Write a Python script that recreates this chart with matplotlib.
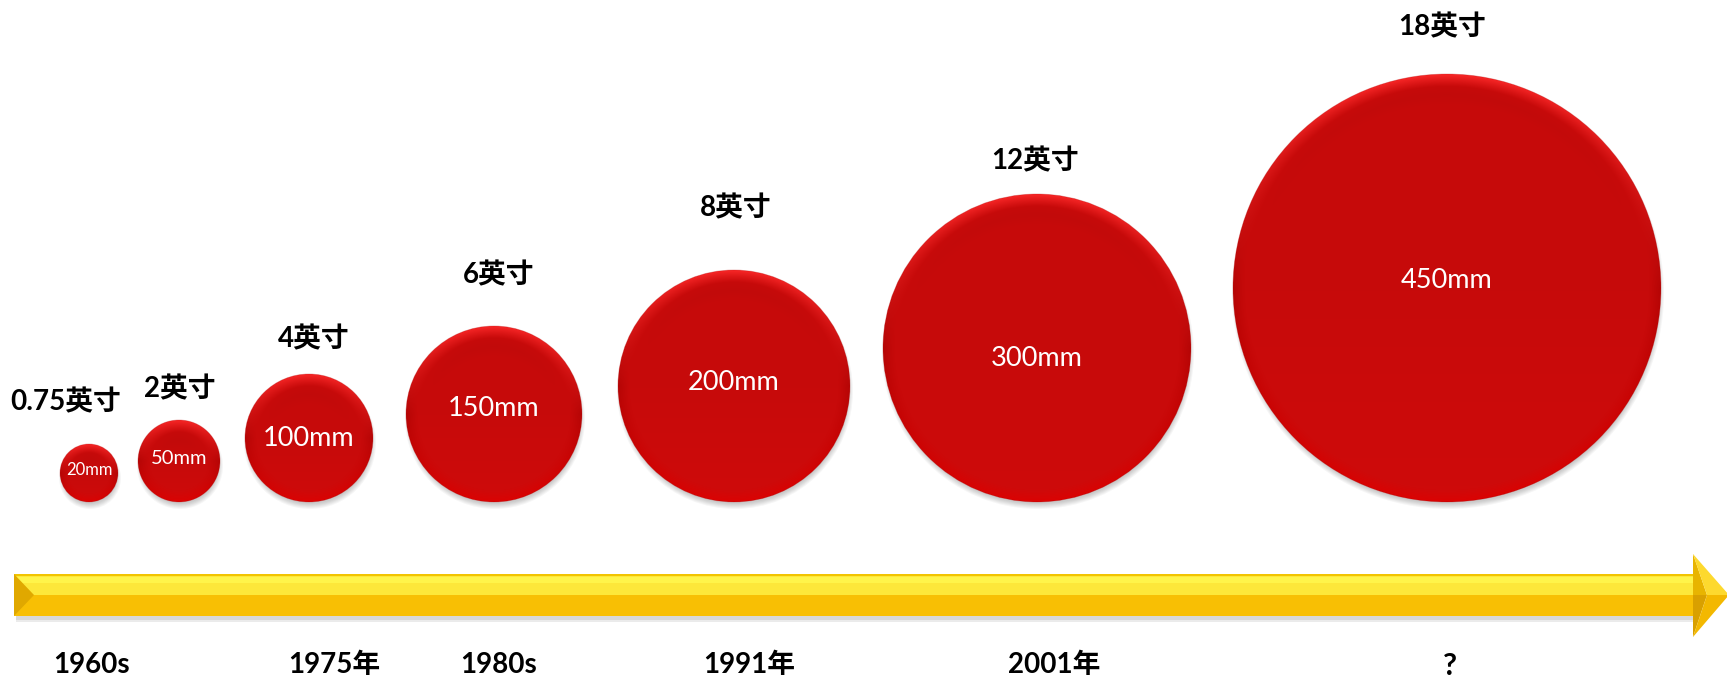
import numpy as np
import matplotlib
matplotlib.use('Agg')
import matplotlib.pyplot as plt
from matplotlib.patches import Circle, Polygon, Rectangle

# wafer sizes
inch_labels = ['0.75英寸', '2英寸', '4英寸', '6英寸', '8英寸', '12英寸', '18英寸']
mm_labels = ['20mm', '50mm', '100mm', '150mm', '200mm', '300mm', '450mm']
years = ['1960s', '1975年', '1980s', '1991年', '2001年', '?']

# layout (pixel units, y down)
W, H = 1727, 677
cx = [89, 179, 309, 494, 734, 1037, 1447]
radius = [29, 41, 64, 88, 116, 154, 214]
base_y = 502
inch_x = [66, 180, 314, 499, 736, 1035, 1442]
inch_y = [402, 389, 339, 275, 208, 161, 27]
mm_dy = [-3, -2, 0, -6, -4, 10, -7]
mm_size = [12, 14.5, 19.5, 19.5, 19.5, 19.5, 19.5]
year_x = [92, 334, 499, 749, 1054, 1450]

fam = ['Lato', 'Noto Sans CJK SC', 'DejaVu Sans']

fig = plt.figure(figsize=(W / 100, H / 100), dpi=100)
ax = fig.add_axes([0, 0, 1, 1])
ax.set_xlim(0, W)
ax.set_ylim(H, 0)
ax.axis('off')


def bevel_image(r, n=400):
    v, u = np.mgrid[1:-1:n * 1j, -1:1:n * 1j]
    d = np.sqrt(u ** 2 + v ** 2) + 1e-9
    bw = min(0.3, 12.0 / r)
    t = np.clip((d - (1 - bw)) / bw, 0, 1) ** 1.1
    vy = v / d
    up = np.clip(vy, 0, None)
    dn = np.clip(-vy, 0, None)
    side = 1 - np.abs(vy)
    dr = t * (0.19 * up + 0.05 * dn - 0.07 * side)
    dg = t * (0.11 * up - 0.03 * dn - 0.02 * side)
    # slightly darker band just inside the top rim
    inner = np.clip(1 - np.abs(d - (1 - 1.7 * bw)) / (0.9 * bw), 0, 1) * up ** 2
    dr -= 0.02 * inner
    # lower half a touch brighter
    dr += 0.03 * np.clip(-v, 0, 1) * (d < 1)
    img = np.zeros((n, n, 3))
    img[..., 0] = 0.78 + dr
    img[..., 1] = 0.04 + dg
    img[..., 2] = 0.04 + dg
    return np.clip(img, 0, 1)


for x, r, lab, mm, dy, fs, ix, iy in zip(cx, radius, inch_labels, mm_labels,
                                         mm_dy, mm_size, inch_x, inch_y):
    y = base_y - r
    # drop shadow
    for k in range(6):
        ax.add_patch(Circle((x + 1, y + 5), r + 2 - k, color='black',
                            alpha=0.035, lw=0, zorder=1))
    disc = Circle((x, y), r, facecolor='none', edgecolor='none', zorder=2)
    ax.add_patch(disc)
    im = ax.imshow(bevel_image(r), extent=[x - r, x + r, y + r, y - r],
                   origin='upper', zorder=2, interpolation='bilinear')
    im.set_clip_path(disc)
    ax.add_patch(Circle((x, y), r, facecolor='none', edgecolor='#b00808',
                        lw=0.6, alpha=0.3, zorder=3))
    ax.text(x, y + dy, mm, color='white', fontsize=fs, ha='center',
            va='center', family=fam, zorder=4)
    ax.text(ix, iy, lab, color='black', fontsize=20, fontweight='bold',
            ha='center', va='center', family=fam, zorder=4)

# timeline arrow
x0, x1, tip = 14, 1693, 1729
top, mid, bot = 574, 595, 616
ax.add_patch(Rectangle((x0 + 2, bot - 2), x1 - x0, 8, color='black',
                       alpha=0.08, lw=0, zorder=1))
ax.add_patch(Rectangle((x0 + 2, bot), x1 - x0, 4, color='black',
                       alpha=0.08, lw=0, zorder=1))
ax.add_patch(Polygon([(x0, top), (x1, top), (x1, mid), (x0, mid)],
                     closed=True, color='#fde73a', lw=0, zorder=2))
ax.add_patch(Polygon([(x0, top + 3), (x1, top + 3), (x1, top + 9), (x0, top + 9)],
                     closed=True, color='#fff44a', lw=0, zorder=2))
ax.add_patch(Polygon([(x0, mid), (x1, mid), (x1, bot), (x0, bot)],
                     closed=True, color='#f8bf04', lw=0, zorder=2))
ax.add_patch(Polygon([(x0, top), (x1, top), (x1, top + 1.5), (x0, top + 1.5)],
                     closed=True, color='#f2c400', lw=0, zorder=2))
ax.add_patch(Polygon([(x0, top), (x0 + 20, mid), (x0, bot)],
                     closed=True, color='#e0a800', lw=0, zorder=3))
# arrow head facets
ax.add_patch(Polygon([(x1, 554), (x1 + 14, mid), (x1, mid)],
                     closed=True, color='#e8b400', lw=0, zorder=3))
ax.add_patch(Polygon([(x1, 554), (tip, mid), (x1 + 14, mid)],
                     closed=True, color='#fdd92e', lw=0, zorder=3))
ax.add_patch(Polygon([(x1, 637), (x1 + 14, mid), (x1, mid)],
                     closed=True, color='#d9a000', lw=0, zorder=3))
ax.add_patch(Polygon([(x1, 637), (tip, mid), (x1 + 14, mid)],
                     closed=True, color='#f3b800', lw=0, zorder=3))

for x, yr in zip(year_x, years):
    fs = 22 if yr == '?' else 20
    ax.text(x, 652, yr, color='black', fontsize=fs, fontweight='bold',
            ha='center', va='top', family=fam)

fig.savefig('out.png', dpi=100, facecolor='white')
